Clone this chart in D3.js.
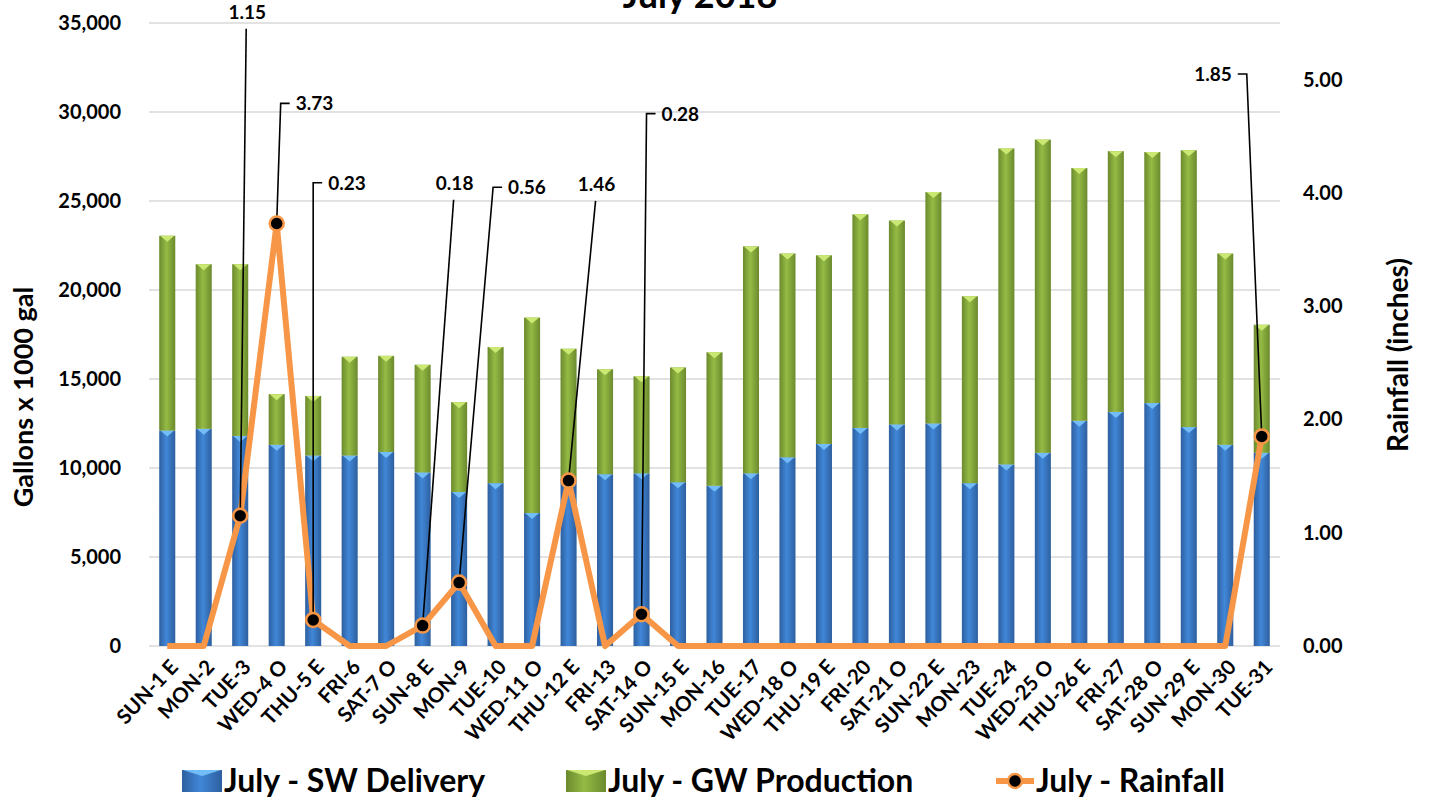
<!DOCTYPE html>
<html>
<head>
<meta charset="utf-8">
<script src="https://cdn.jsdelivr.net/npm/d3@7"></script>
<style>
  body { margin: 0; background: #fff; }
  svg { display: block; font-family: Lato, "Open Sans", sans-serif; font-weight: bold; }
</style>
</head>
<body>
<svg width="1429" height="801"></svg>
<script>
var days = ["SUN-1 E","MON-2","TUE-3","WED-4 O","THU-5 E","FRI-6","SAT-7 O","SUN-8 E","MON-9","TUE-10",
	"WED-11 O","THU-12 E","FRI-13","SAT-14 O","SUN-15 E","MON-16","TUE-17","WED-18 O","THU-19 E","FRI-20",
	"SAT-21 O","SUN-22 E","MON-23","TUE-24","WED-25 O","THU-26 E","FRI-27","SAT-28 O","SUN-29 E","MON-30","TUE-31"];

// thousands of gallons
var swDelivery = [12100,12200,11800,11300,10700,10700,10900,9750,8650,9150,
	7470,9400,9650,9700,9200,9000,9700,10600,11350,12250,
	12450,12500,9150,10200,10850,12650,13150,13650,12300,11300,10850];
var gwProduction = [10950,9250,9650,2850,3350,5550,5400,6050,5050,7650,
	10980,7300,5900,5450,6450,7500,12750,11450,10600,12000,
	11450,13000,10500,17750,17600,14200,14650,14100,15550,10750,7200];
// inches
var rainfall = [0,0,1.15,3.73,0.23,0,0,0.18,0.56,0,
	0,1.46,0,0.28,0,0,0,0,0,0,
	0,0,0,0,0,0,0,0,0,0,1.85];

var leftTicks = [0,5000,10000,15000,20000,25000,30000,35000];
var rightTicks = [0,1,2,3,4,5];

// callout placement: day index, x shift of the leader end, leader end height (inches), label side
var callouts = [
	{i: 2,  dx: 6,   at: 5.45, side: "top"},
	{i: 3,  dx: 4,   at: 4.79, side: "right"},
	{i: 4,  dx: 0,   at: 4.09, side: "right"},
	{i: 7,  dx: 31,  at: 3.94, side: "top"},
	{i: 8,  dx: 34,  at: 4.05, side: "right"},
	{i: 11, dx: 27,  at: 3.93, side: "top"},
	{i: 13, dx: 5,   at: 4.70, side: "right"},
	{i: 30, dx: -15, at: 5.05, side: "left"}
];

var svg = d3.select("svg");
var plotL = 149, plotR = 1280, plotT = 23, plotB = 646;

var x = d3.scaleBand().domain(days).range([plotL, plotR]).paddingInner(0.56).paddingOuter(0.28);
var y = d3.scaleLinear().domain([0, 35000]).range([plotB, plotT]);
var yR = d3.scaleLinear().domain([0, 5.5]).range([plotB, plotT]);
var cx = function(d){ return x(d) + x.bandwidth() / 2; };

var defs = svg.append("defs");
function grad(id, edge, mid){
	var g = defs.append("linearGradient").attr("id", id).attr("x1", 0).attr("x2", 1).attr("y1", 0).attr("y2", 0);
	g.append("stop").attr("offset", "0%").attr("stop-color", edge);
	g.append("stop").attr("offset", "45%").attr("stop-color", mid);
	g.append("stop").attr("offset", "100%").attr("stop-color", edge);
}
grad("blueG", "#2d5f9f", "#4187d8");
grad("greenG", "#6b8a2d", "#95bb45");

// title (cut off at top)
svg.append("text").attr("x", 700).attr("y", 8).attr("text-anchor", "middle")
	.attr("font-size", 36).text("July 2018");

// gridlines
svg.append("g").selectAll("line").data(leftTicks).join("line")
	.attr("x1", plotL).attr("x2", plotR)
	.attr("y1", function(d){ return y(d); }).attr("y2", function(d){ return y(d); })
	.attr("stroke", "#d9d9d9").attr("stroke-width", 1.3);

// left axis
var yAxis = d3.axisLeft(y).tickValues(leftTicks).tickSize(0).tickPadding(28).tickFormat(d3.format(","));
svg.append("g").attr("transform", "translate(" + plotL + ",0)").call(yAxis)
	.call(function(g){ g.select(".domain").remove(); })
	.selectAll("text").attr("font-size", 20).attr("font-family", "Lato").attr("font-weight", "bold").attr("fill", "#000");

// right axis
var yRAxis = d3.axisRight(yR).tickValues(rightTicks).tickSize(0).tickPadding(23).tickFormat(d3.format(".2f"));
svg.append("g").attr("transform", "translate(" + plotR + ",0)").call(yRAxis)
	.call(function(g){ g.select(".domain").remove(); })
	.selectAll("text").attr("font-size", 20).attr("font-family", "Lato").attr("font-weight", "bold").attr("fill", "#000");

// x axis labels
var xAxis = d3.axisBottom(x).tickSize(0).tickPadding(0);
svg.append("g").attr("transform", "translate(0," + plotB + ")").call(xAxis)
	.call(function(g){ g.select(".domain").remove(); })
	.selectAll("text")
	.attr("font-size", 20.5).attr("font-family", "Lato").attr("font-weight", "bold").attr("fill", "#000")
	.attr("text-anchor", "end").attr("dy", null)
	.attr("transform", "translate(12,22) rotate(-47)");

// axis titles
svg.append("text").attr("transform", "translate(33,397) rotate(-90)").attr("text-anchor", "middle")
	.attr("font-size", 27).text("Gallons x 1000 gal");
svg.append("text").attr("transform", "translate(1408,355) rotate(-90)").attr("text-anchor", "middle")
	.attr("font-size", 28).text("Rainfall (inches)");

// stacked bars
var stacked = d3.stack().keys(["sw", "gw"])(days.map(function(d, i){
	return {day: d, sw: swDelivery[i], gw: gwProduction[i]};
}));
var fills = {sw: "url(#blueG)", gw: "url(#greenG)"};
var bevel = {sw: "#72bdf7", gw: "#cbe873"};
stacked.forEach(function(layer){
	var g = svg.append("g");
	g.selectAll("rect").data(layer).join("rect")
		.attr("x", function(d){ return x(d.data.day); })
		.attr("width", x.bandwidth())
		.attr("y", function(d){ return y(d[1]); })
		.attr("height", function(d){ return y(d[0]) - y(d[1]); })
		.attr("fill", fills[layer.key]);
	g.selectAll("path").data(layer).join("path")
		.attr("d", function(d){
			var x0 = x(d.data.day), w = x.bandwidth(), t = y(d[1]);
			return "M" + (x0 + 1) + "," + t + "L" + (x0 + w - 1) + "," + t + "L" + (x0 + w / 2) + "," + (t + 6) + "Z";
		})
		.attr("fill", bevel[layer.key]);
});

// rainfall line
var line = d3.line().x(function(d, i){ return cx(days[i]); }).y(function(d){ return yR(d); });
svg.append("path").datum(rainfall).attr("d", line)
	.attr("fill", "none").attr("stroke", "#f79646").attr("stroke-width", 6).attr("stroke-linejoin", "round");

// callouts
var cg = svg.append("g");
callouts.forEach(function(c){
	var px = cx(days[c.i]), py = yR(rainfall[c.i]);
	var ex = px + c.dx, ey = yR(c.at);
	var pts = [[px, py], [ex, ey]];
	var tx, ty, anchor;
	if (c.side === "right") { pts.push([ex + 9, ey]); tx = ex + 15; ty = ey + 7; anchor = "start"; }
	else if (c.side === "left") { pts.push([ex - 9, ey]); tx = ex - 15; ty = ey + 7; anchor = "end"; }
	else { tx = ex + 1; ty = ey - 10; anchor = "middle"; }
	cg.append("path").attr("d", d3.line()(pts)).attr("fill", "none").attr("stroke", "#000").attr("stroke-width", 1.6);
	cg.append("text").attr("x", tx).attr("y", ty).attr("text-anchor", anchor)
		.attr("font-size", 19).text(rainfall[c.i].toFixed(2));
});

// markers
svg.append("g").selectAll("circle").data(rainfall.map(function(d, i){ return {v: d, i: i}; }).filter(function(d){ return d.v > 0; }))
	.join("circle")
	.attr("cx", function(d){ return cx(days[d.i]); })
	.attr("cy", function(d){ return yR(d.v); })
	.attr("r", 7).attr("fill", "#000").attr("stroke", "#f79646").attr("stroke-width", 2.5);

// legend
var lg = svg.append("g").attr("transform", "translate(0,781)");
var items = [
	{label: "July - SW Delivery", x: 182, kind: "sw"},
	{label: "July - GW Production", x: 566, kind: "gw"},
	{label: "July - Rainfall", x: 996, kind: "rain"}
];
items.forEach(function(it){
	if (it.kind === "rain") {
		lg.append("line").attr("x1", it.x).attr("x2", it.x + 38).attr("stroke", "#f79646").attr("stroke-width", 6);
		lg.append("circle").attr("cx", it.x + 19).attr("r", 7).attr("fill", "#000").attr("stroke", "#f79646").attr("stroke-width", 2.5);
	} else {
		lg.append("rect").attr("x", it.x).attr("y", -11).attr("width", 40).attr("height", 22).attr("fill", fills[it.kind]);
		lg.append("path").attr("d", "M" + (it.x + 1) + ",-11L" + (it.x + 39) + ",-11L" + (it.x + 20) + ",-5Z").attr("fill", bevel[it.kind]);
	}
	lg.append("text").attr("x", it.x + (it.kind === "rain" ? 40 : 42)).attr("y", 11)
		.attr("font-size", 32).text(it.label);
});
</script>
</body>
</html>
